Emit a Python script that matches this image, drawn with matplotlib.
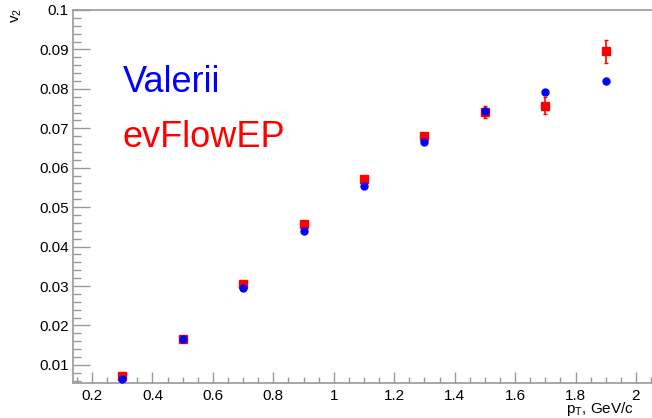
import matplotlib.pyplot as plt
from matplotlib.ticker import MultipleLocator, FormatStrFormatter

plt.rcParams['font.family'] = ['Liberation Sans', 'DejaVu Sans']

pt = [0.3, 0.5, 0.7, 0.9, 1.1, 1.3, 1.5, 1.7, 1.9]
# Valerii
v2_val = [0.0064, 0.0165, 0.0296, 0.0440, 0.0553, 0.0665, 0.0745, 0.0793, 0.0820]
err_val = [0.0003, 0.0003, 0.0003, 0.0003, 0.0003, 0.0003, 0.0005, 0.0004, 0.0007]
# evFlowEP
v2_ev = [0.0071, 0.0166, 0.0305, 0.0458, 0.0572, 0.0680, 0.0742, 0.0757, 0.0895]
err_ev = [0.0008, 0.0004, 0.0005, 0.0005, 0.0006, 0.0009, 0.0015, 0.0022, 0.0030]

fig = plt.figure(figsize=(6.52, 4.18), dpi=100)
ax = fig.add_axes([73/652, 35/418, 1 - 73/652, 373/418])

ax.errorbar(pt, v2_ev, yerr=err_ev, fmt='s', color='red', ms=6,
            elinewidth=1.2, capsize=1.5, zorder=3)
ax.errorbar(pt, v2_val, yerr=err_val, fmt='o', color='blue', ms=5,
            elinewidth=1.2, capsize=1, zorder=4)

ax.set_xlim(0.137, 2.053)
ax.set_ylim(0.0054, 0.1)

ax.xaxis.set_major_locator(MultipleLocator(0.2))
ax.xaxis.set_minor_locator(MultipleLocator(0.05))
ax.yaxis.set_major_locator(MultipleLocator(0.01))
ax.yaxis.set_minor_locator(MultipleLocator(0.002))
ax.xaxis.set_major_formatter(FormatStrFormatter('%g'))
ax.yaxis.set_major_formatter(FormatStrFormatter('%g'))

gray = '#999999'
for s in ['left', 'bottom', 'top']:
    ax.spines[s].set_color(gray)
    ax.spines[s].set_linewidth(1.2)
ax.spines['right'].set_visible(False)

ax.tick_params(axis='y', which='major', direction='in', length=12, width=1,
               color=gray, labelsize=11, pad=3)
ax.tick_params(axis='y', which='minor', direction='in', length=6, width=1,
               color=gray)
ax.tick_params(axis='x', which='major', direction='in', length=8, width=1,
               color=gray, labelsize=11, pad=4)
ax.tick_params(axis='x', which='minor', direction='in', length=4, width=1,
               color=gray)

fig.text(123/652, 1 - 92/418, 'Valerii', color='blue', fontsize=26,
         ha='left', va='baseline')
fig.text(123/652, 1 - 147/418, 'evFlowEP', color='red', fontsize=26,
         ha='left', va='baseline')

fig.text(566/652, 1 - 413/418, r'p$_{\mathregular{T}}$, GeV/c', fontsize=11,
         ha='left', va='baseline')
fig.text(17/652, 1 - 8/418, r'v$_{\mathregular{2}}$', fontsize=11,
         rotation=90, ha='center', va='top')

fig.savefig('out.png', dpi=100)
